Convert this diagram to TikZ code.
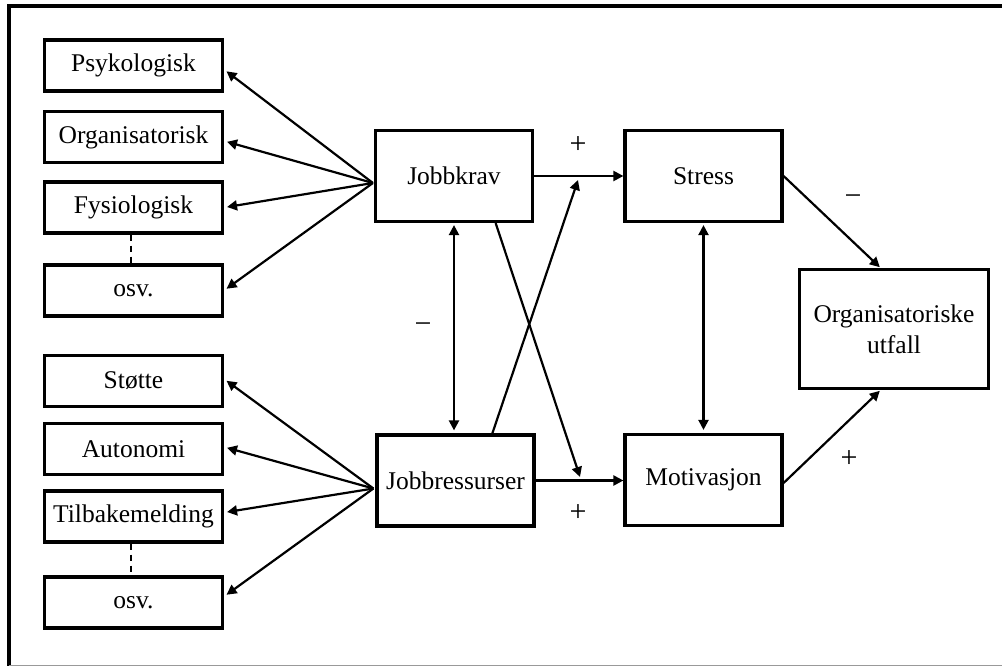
\documentclass[tikz,border=0pt]{standalone}
\usepackage{fontspec}
\setmainfont{Liberation Serif}
\usetikzlibrary{arrows.meta,calc}
\begin{document}
\begin{tikzpicture}[x=1pt,y=-1pt,
  box/.style={draw,line width=3.2pt,inner sep=0pt,font=\fontsize{25.5}{31}\selectfont,align=center},
  leftbox/.style={box,minimum width=178pt,minimum height=51pt},
  bigbox/.style={box,minimum width=157pt,minimum height=91pt},
  conn/.style={line width=2.2pt,-{Triangle[length=10pt,width=10pt]}},
  dconn/.style={line width=2.2pt,{Triangle[length=10pt,width=10pt]}-{Triangle[length=10pt,width=10pt]}},
  sign/.style={font=\fontsize{30}{34}\selectfont,inner sep=0pt}]
\useasboundingbox (0,0) rectangle (1002,666);
% frame
\draw[line width=4pt] (9,668) -- (9,6.5) -- (1004,6.5);
\draw[black!40,line width=1.5pt] (9,665.3) -- (1004,665.3);
% left boxes
\node[leftbox] (psy) at (133.5,65.5) {Psykologisk};
\node[leftbox] (org1) at (133.5,137) {Organisatorisk};
\node[leftbox] (fys) at (133.5,207.5) {Fysiologisk};
\node[leftbox] (osv1) at (133.5,290.5) {osv.};
\node[leftbox] (sto) at (133.5,381) {Støtte};
\node[leftbox] (aut) at (133.5,449) {Autonomi};
\node[leftbox] (til) at (133.5,516.5) {Tilbakemelding};
\node[leftbox] (osv2) at (133.5,602.5) {osv.};
% main boxes
\node[bigbox] (jk) at (454,176) {Jobbkrav};
\node[bigbox] (st) at (703.5,176) {Stress};
\node[bigbox] (jr) at (455.5,480.5) {Jobbressurser};
\node[bigbox] (mo) at (703.5,480) {Motivasjon};
\node[box,minimum width=189pt,minimum height=119pt] (org) at (894,329) {Organisatoriske\\utfall};
% dashed links
\draw[line width=2pt,dash pattern=on 6pt off 5pt] ($(fys.south)+(-3,0)$) -- ($(osv1.north)+(-3,0)$);
\draw[line width=2pt,dash pattern=on 6pt off 5pt] ($(til.south)+(-3,0)$) -- ($(osv2.north)+(-3,0)$);
% fan arrows
\coordinate (jkc) at ($(jk.west)+(-1,7)$);
\coordinate (jrc) at ($(jr.west)+(-2,8)$);
\draw[conn,shorten >=3pt] (jkc) -- ($(psy.east)+(0,4)$);
\draw[conn,shorten >=3pt] (jkc) -- ($(org1.east)+(0,4)$);
\draw[conn,shorten >=3pt] (jkc) -- (fys.east);
\draw[conn,shorten >=3pt] (jkc) -- (osv1.east);
\draw[conn,shorten >=3pt] (jrc) -- ($(sto.east)+(0,-2)$);
\draw[conn,shorten >=3pt] (jrc) -- ($(aut.east)+(0,-2)$);
\draw[conn,shorten >=3pt] (jrc) -- ($(til.east)+(0,-4)$);
\draw[conn,shorten >=3pt] (jrc) -- ($(osv2.east)+(0,-6)$);
% main arrows
\draw[conn] (jk.east) -- (st.west);
\draw[conn] (jr.east) -- (mo.west |- jr.east);
\draw[dconn,shorten <=2pt,shorten >=3pt] (jk.south) -- (jk.south |- jr.north);
\draw[dconn,shorten <=2pt,shorten >=3pt] (st.south) -- (st.south |- mo.north);
\coordinate (x1s) at ($(jk.south west)!0.76!(jk.south east)$);
\coordinate (x1e) at (580,477);
\coordinate (x2s) at ($(jr.north west)!0.73!(jr.north east)$);
\coordinate (x2e) at (578,180);
\draw[conn] (x1s) -- (x1e);
\draw[conn] (x2s) -- (x2e);
\draw[conn,shorten >=1pt] (st.east) -- ($(org.north west)!0.43!(org.north east)$);
\draw[conn,shorten >=1pt] ($(mo.east)+(0,3)$) -- ($(org.south west)!0.43!(org.south east)$);
% signs
\node[sign] (s1) at (578,145) {+};
\node[sign] (s2) at (423,328) {−};
\node[sign] (s3) at (578,513) {+};
\node[sign] (s4) at (853,200) {−};
\node[sign] (s5) at (849,459) {+};
\end{tikzpicture}
\end{document}
